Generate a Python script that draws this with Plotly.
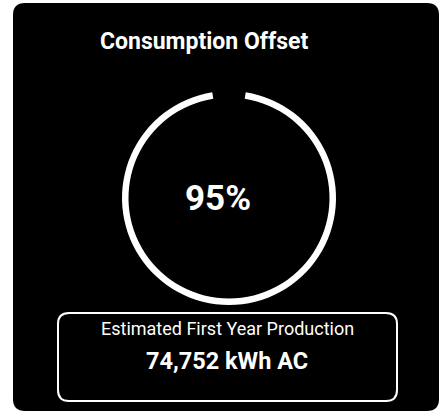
import plotly.graph_objects as go

# Card content
title_text = "Consumption Offset"
offset_pct = 95
production_label = "Estimated First Year Production"
production_kwh = 74752
production_unit = "kWh AC"

W, H = 439, 412


def px(x):
    return x / W


def py(y):
    return 1 - y / H


def rounded_rect(x0, y0, x1, y1, r):
    pts = [
        ("M", [(x0 + r, y0)]), ("L", [(x1 - r, y0)]), ("Q", [(x1, y0), (x1, y0 + r)]),
        ("L", [(x1, y1 - r)]), ("Q", [(x1, y1), (x1 - r, y1)]),
        ("L", [(x0 + r, y1)]), ("Q", [(x0, y1), (x0, y1 - r)]),
        ("L", [(x0, y0 + r)]), ("Q", [(x0, y0), (x0 + r, y0)]),
    ]
    out = []
    for cmd, coords in pts:
        out.append(cmd + " " + " ".join(f"{px(a):.5f},{py(b):.5f}" for a, b in coords))
    return " ".join(out) + " Z"


# Ring geometry (pixels)
cx, cy, r_out, thick = 229, 198, 107, 6.5
dom_x = [(cx - r_out) / W, (cx + r_out) / W]
dom_y = [(H - cy - r_out) / H, (H - cy + r_out) / H]

remaining = 100 - offset_pct
fig = go.Figure()
fig.add_trace(go.Pie(
    values=[offset_pct, remaining],
    sort=False,
    direction="clockwise",
    rotation=remaining / 100 * 360 / 2,
    hole=(r_out - thick) / r_out,
    marker=dict(colors=["#ffffff", "rgba(0,0,0,0)"], line=dict(width=0)),
    textinfo="none",
    hoverinfo="skip",
    showlegend=False,
    domain=dict(x=dom_x, y=dom_y),
))

font = "Roboto, 'Open Sans', sans-serif"


def note(x, y, text, size, anchor="center"):
    return dict(x=px(x), y=py(y), xref="paper", yref="paper", text=text,
                showarrow=False, xanchor=anchor, yanchor="middle",
                font=dict(family=font, size=size, color="#ffffff"))


fig.update_layout(
    width=W, height=H,
    margin=dict(l=0, r=0, t=0, b=0),
    paper_bgcolor="#ffffff",
    shapes=[
        dict(type="path", xref="paper", yref="paper",
             path=rounded_rect(13, 3, 439, 411, 12),
             fillcolor="#000000", line=dict(width=0), layer="below"),
        dict(type="path", xref="paper", yref="paper",
             path=rounded_rect(58, 313, 397, 401, 11),
             fillcolor="rgba(0,0,0,0)", line=dict(color="#ffffff", width=2)),
    ],
    annotations=[
        note(98, 42, f"<b>{title_text}</b>", 23, "left"),
        note(218, 198, f"<b>{offset_pct}%</b>", 35),
        note(227, 328, production_label, 18),
        note(227, 361, f"<b>{production_kwh:,} {production_unit}</b>", 23.5),
    ],
)

fig.write_html("out.html")
